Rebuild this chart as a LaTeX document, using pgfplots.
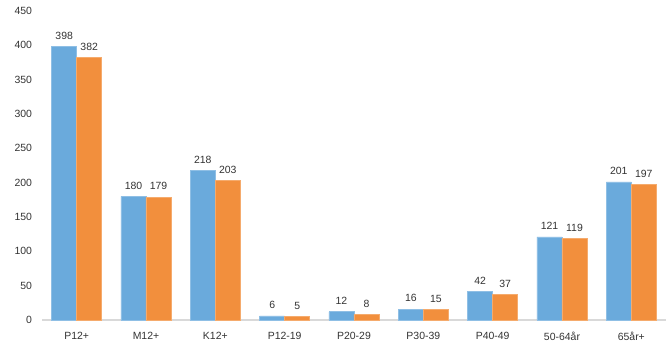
\documentclass[border=0pt]{standalone}
\usepackage{pgfplots}
\pgfplotsset{compat=1.18}
\usepackage{fontspec}
\setmainfont{Liberation Sans}
\definecolor{cblue}{RGB}{106,170,220}
\definecolor{corange}{RGB}{242,143,61}
\definecolor{axgray}{RGB}{217,217,217}
\definecolor{txt}{RGB}{51,51,51}
\begin{document}
\begin{tikzpicture}
\useasboundingbox (-42bp,-39bp) rectangle (628bp,320bp);
\begin{axis}[
  at={(0,0)}, anchor=south west,
  scale only axis, width=624bp, height=309bp,
  xmin=-0.5, xmax=8.5, ymin=0, ymax=450,
  ytick={0,50,...,450},
  xtick=data,
  xticklabels={P12+,M12+,K12+,P12-19,P20-29,P30-39,P40-49,50-64år,65år+},
  axis x line*=bottom, axis y line*=left,
  axis line style={-},
  x axis line style={axgray, line width=2bp},
  y axis line style={draw=none},
  major tick length=0pt,
  /pgf/number format/assume math mode=true,
  tick label style={font=\fontsize{10.5}{12}\selectfont, text=txt},
  xticklabel style={yshift=-8.5bp},
  yticklabel style={xshift=-6.5bp},
  ybar=0pt, bar width=25bp,
  nodes near coords,
  every node near coord/.append style={font=\fontsize{10.5}{12}\selectfont, text=txt, yshift=3.5bp},
  clip=false,
]
\addplot[fill=cblue, draw=cblue!75!white, line width=0.6bp] coordinates {(0,398) (1,180) (2,218) (3,6) (4,12) (5,16) (6,42) (7,121) (8,201)};
\addplot[fill=corange, draw=corange!75!white, line width=0.6bp] coordinates {(0,382) (1,179) (2,203) (3,5) (4,8) (5,15) (6,37) (7,119) (8,197)};
\end{axis}
\end{tikzpicture}
\end{document}
